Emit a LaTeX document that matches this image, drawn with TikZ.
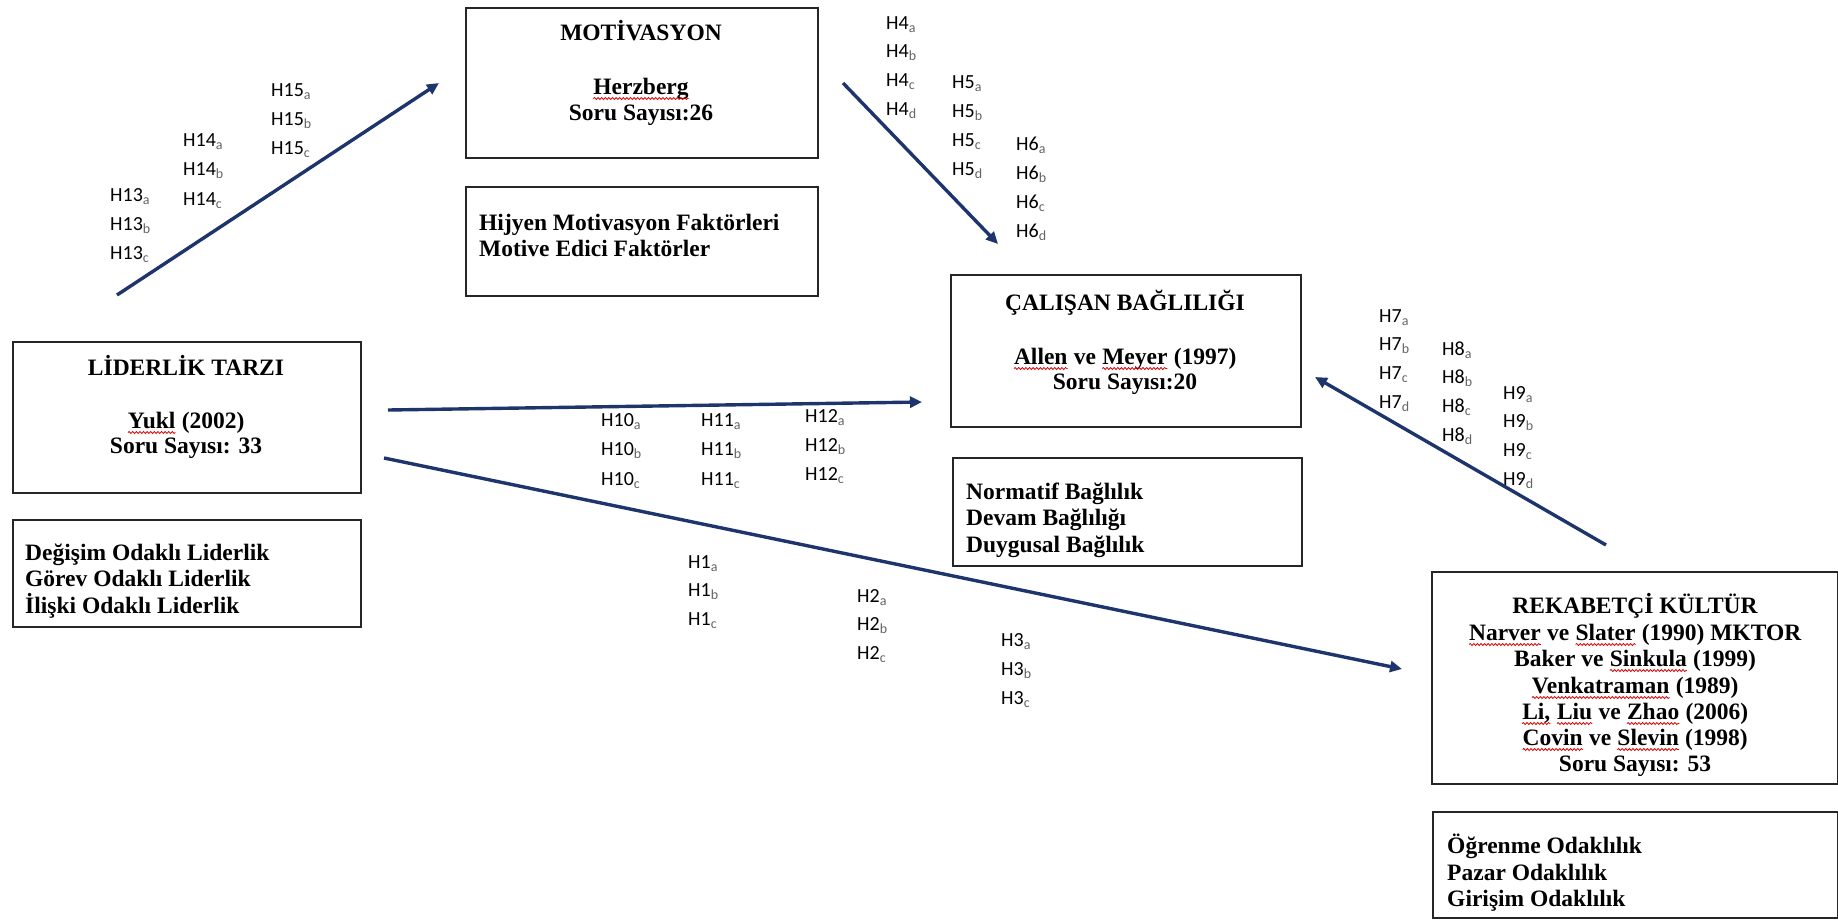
\documentclass[tikz,border=0pt]{standalone}
\usepackage{fontspec}
\setmainfont{Liberation Serif}
\newfontfamily\hfont{Carlito}
\usetikzlibrary{arrows.meta,decorations.pathmorphing}
\definecolor{navy}{RGB}{30,52,108}
\definecolor{subgray}{RGB}{100,100,100}
\newcommand\sq[1]{\tikz[baseline=(w.base)]{\node[inner sep=0pt,outer sep=0pt,draw=none](w){#1};\draw[red!85!black,line width=0.8pt,decorate,decoration={snake,amplitude=1pt,segment length=3.6pt}]([yshift=-4.5pt]w.base west)--([yshift=-4.5pt]w.base east);}}
\newcommand\hsub[2]{H#1\textsubscript{\color{subgray}#2}}
\tikzset{
  boxs/.style={draw=black!85, line width=2pt, inner sep=0pt, anchor=north west},
  tx/.style={font=\fontsize{23.5}{26.5}\selectfont\bfseries, inner sep=0pt, anchor=base},
  txl/.style={tx, anchor=base west},
  hl/.style={font=\hfont\fontsize{20}{28}\selectfont, inner sep=0pt, anchor=base west, text=black},
  arr/.style={draw=navy, line width=3.4pt, -{Triangle[length=12pt,width=11pt]}}
}
\begin{document}
\begin{tikzpicture}[x=1pt,y=-1pt]
\useasboundingbox (0,0) rectangle (1838,919);
% boxes
\node[boxs, minimum width=352, minimum height=150] (mot) at (465,7) {};
\node[boxs, minimum width=352, minimum height=109] (hij) at (465,186) {};
\node[boxs, minimum width=348, minimum height=151] (lid) at (12,341) {};
\node[boxs, minimum width=348, minimum height=107] (deg) at (12,519) {};
\node[boxs, minimum width=350, minimum height=152] (cal) at (950,274) {};
\node[boxs, minimum width=349, minimum height=108] (nor) at (952,457) {};
\node[boxs, minimum width=406, minimum height=212] (rek) at (1431,571) {};
\node[boxs, minimum width=405, minimum height=106] (ogr) at (1432,811) {};
% box texts
\node[tx] (motT) at (641,40) {MOTİVASYON};
\node[tx] (motA) at (641,94) {\sq{Herzberg}};
\node[tx] (motS) at (641,120) {Soru Sayısı:26};
\node[txl] (hij1) at (479,230) {Hijyen Motivasyon Faktörleri};
\node[txl] (hij2) at (479,256) {Motive Edici Faktörler};
\node[tx] (lidT) at (186,375) {LİDERLİK TARZI};
\node[tx] (lidA) at (186,428) {\sq{Yukl} (2002)};
\node[tx] (lidS) at (186,453) {Soru Sayısı: 33};
\node[txl] (deg1) at (25,560) {Değişim Odaklı Liderlik};
\node[txl] (deg2) at (25,586) {Görev Odaklı Liderlik};
\node[txl] (deg3) at (25,613) {İlişki Odaklı Liderlik};
\node[tx] (calT) at (1125,310) {ÇALIŞAN BAĞLILIĞI};
\node[tx] (calA) at (1125,364) {\sq{Allen} ve \sq{Meyer} (1997)};
\node[tx] (calS) at (1125,389) {Soru Sayısı:20};
\node[txl] (nor1) at (966,499) {Normatif Bağlılık};
\node[txl] (nor2) at (966,525) {Devam Bağlılığı};
\node[txl] (nor3) at (966,552) {Duygusal Bağlılık};
\node[tx] (rek1) at (1635,613) {REKABETÇİ KÜLTÜR};
\node[tx] (rek2) at (1635,640) {\sq{Narver} ve \sq{Slater} (1990) MKTOR};
\node[tx] (rek3) at (1635,666) {Baker ve \sq{Sinkula} (1999)};
\node[tx] (rek4) at (1635,693) {\sq{Venkatraman} (1989)};
\node[tx] (rek5) at (1635,719) {\sq{Li,} \sq{Liu} ve \sq{Zhao} (2006)};
\node[tx] (rek6) at (1635,745) {\sq{Covin} ve \sq{Slevin} (1998)};
\node[tx] (rek7) at (1635,771) {Soru Sayısı: 53};
\node[txl] (ogr1) at (1447,853) {Öğrenme Odaklılık};
\node[txl] (ogr2) at (1447,880) {Pazar Odaklılık};
\node[txl] (ogr3) at (1447,906) {Girişim Odaklılık};
% hypothesis labels
\foreach \n/\x/\y/\dy/\ls in {
  15/271/96/29/{a,b,c}, 14/183/146/29.5/{a,b,c}, 13/110/201/29/{a,b,c},
  4/886/29/28.7/{a,b,c,d}, 5/952/88/29/{a,b,c,d}, 6/1016/150/29/{a,b,c,d},
  7/1379/322/28.7/{a,b,c,d}, 8/1442/355/28.7/{a,b,c,d}, 9/1503/399/28.7/{a,b,c,d},
  10/601/426/29.5/{a,b,c}, 11/701/426/29.5/{a,b,c}, 12/805/422/29/{a,b,c},
  1/688/568/28.5/{a,b,c}, 2/857/602/28.5/{a,b,c}, 3/1001/646/29/{a,b,c}}{
  \foreach \l [count=\i from 0] in \ls {
    \node[hl] (h\n\l) at (\x,\y+\i*\dy) {\hsub{\n}{\l}};
  }
}
% connectors
\coordinate (s1) at (117,295);
\coordinate (e1) at (439,83);
\coordinate (s2) at (843,83);
\coordinate (e2) at (998,244);
\coordinate (s3) at (388,410);
\coordinate (e3) at (922,402);
\coordinate (s4) at (384,458);
\coordinate (e4) at (1402,669);
\coordinate (s5) at (1606,545);
\coordinate (e5) at (1315,377);
\draw[arr] (s1) -- (e1);
\draw[arr] (s2) -- (e2);
\draw[arr] (s3) -- (e3);
\draw[arr] (s4) -- (e4);
\draw[arr] (s5) -- (e5);
\end{tikzpicture}
\end{document}
